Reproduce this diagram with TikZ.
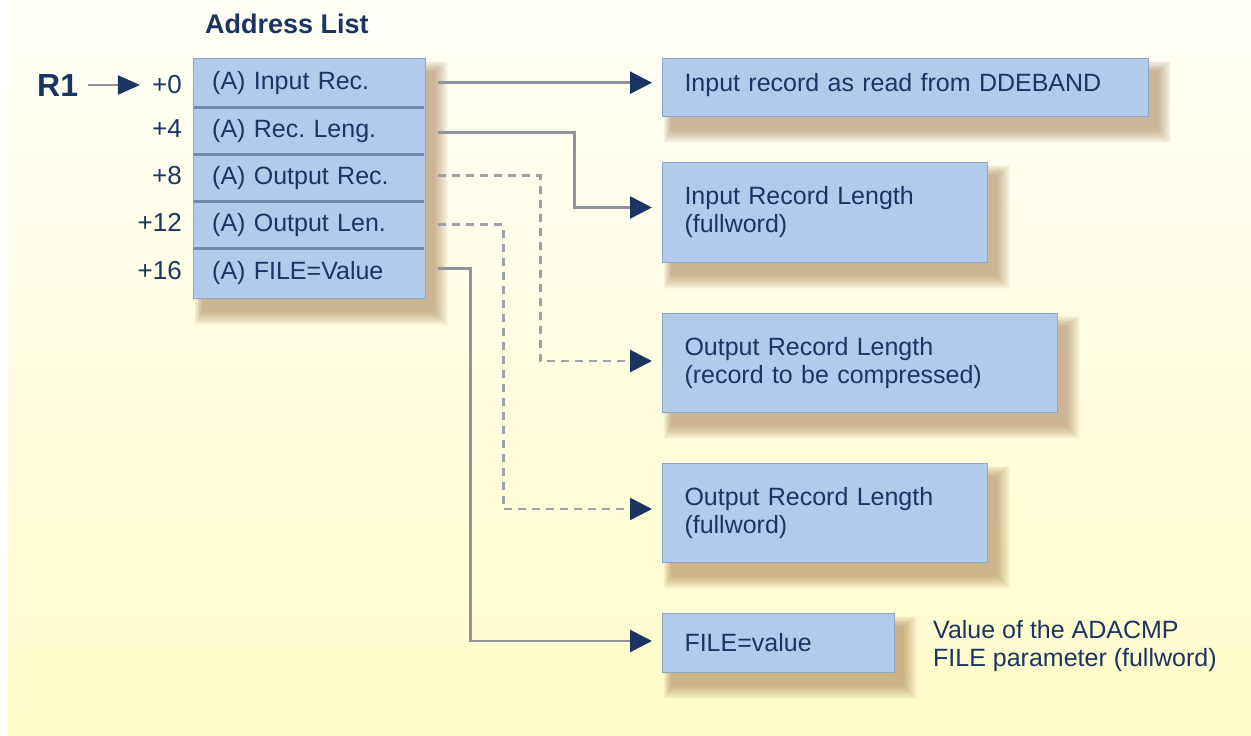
\documentclass[tikz,border=0pt]{standalone}
\usepackage{fontspec}
\setmainfont{Liberation Sans}
\frenchspacing
\usetikzlibrary{arrows.meta,calc}
\pgfdeclarelayer{bg}
\pgfdeclarelayer{shd}
\pgfsetlayers{bg,shd,main}
\definecolor{boxfill}{HTML}{B2CBEA}
\definecolor{boxline}{HTML}{8EA7C9}
\definecolor{divline}{HTML}{7189AA}
\definecolor{navy}{HTML}{1C3461}
\definecolor{connc}{HTML}{8E949B}
\definecolor{dconnc}{HTML}{9DA2A8}
\definecolor{shadowc}{HTML}{9C6B3E}
\definecolor{bgtop}{HTML}{FFFFF8}
\definecolor{bgmid}{HTML}{FFFDE0}
\definecolor{bgbot}{HTML}{FFFCC9}
\newcommand\boxshadow[1]{%
  \begin{pgfonlayer}{shd}
    \foreach \k in {0,...,13}{%
      \pgfmathsetmacro\myinfl{14-\k}%
      \fill[shadowc, opacity=0.045] ($(#1.north west)+({10-0.6*\myinfl},{14-0.8*\myinfl})$) rectangle ($(#1.south east)+(8+\myinfl,12+\myinfl)$);
    }%
  \end{pgfonlayer}}
\begin{document}
\begin{tikzpicture}[x=1pt,y=-1pt,
  txt/.style={font=\fontsize{25}{28}\selectfont, text=navy},
  lab/.style={txt, inner sep=0pt},
  rowbox/.style={txt, text width=194pt, inner xsep=19pt, inner ysep=0pt, align=left, anchor=north west},
  tbox/.style={txt, fill=boxfill, draw=boxline, line width=1pt, inner xsep=22pt, inner ysep=0pt, align=left, anchor=north west},
  link/.style={draw=connc, line width=2.6pt, shorten <=13pt, shorten >=10pt, -{Triangle[length=22pt,width=22pt,color=navy]}},
  dlink/.style={link, draw=dconnc, dash pattern=on 8pt off 6pt},
  divider/.style={draw=divline, line width=3pt}]
\useasboundingbox (0,0) rectangle (1251,736);
\begin{pgfonlayer}{bg}
  \fill[white] (0,0) rectangle (1251,736);
  \shade[top color=bgtop, middle color=bgmid, bottom color=bgbot] (8,0) rectangle (1251,735);
\end{pgfonlayer}

% title
\node[lab, font=\bfseries\fontsize{27}{30}\selectfont, anchor=base west] (title) at (205,33) {Address List};

% address list
\node[fill=boxfill, draw=boxline, line width=1pt, minimum width=232pt, minimum height=240pt, inner sep=0pt, anchor=north west] (alist) at (193,58) {};
\boxshadow{alist}
\node[rowbox, minimum height=49pt] (r1) at (193,58) {(A) Input Rec.};
\node[rowbox, minimum height=47pt] (r2) at (193,107) {(A) Rec. Leng.};
\node[rowbox, minimum height=47pt] (r3) at (193,154) {(A) Output Rec.};
\node[rowbox, minimum height=47pt] (r4) at (193,201) {(A) Output Len.};
\node[rowbox, minimum height=50pt] (r5) at (193,248) {(A) FILE=Value};
\draw[divider] ([xshift=1pt]r1.south west) -- ([xshift=-1pt]r1.south east);
\draw[divider] ([xshift=1pt]r2.south west) -- ([xshift=-1pt]r2.south east);
\draw[divider] ([xshift=1pt]r3.south west) -- ([xshift=-1pt]r3.south east);
\draw[divider] ([xshift=1pt]r4.south west) -- ([xshift=-1pt]r4.south east);

% offsets
\node[lab, font=\fontsize{26}{28}\selectfont, anchor=base east] (o1) at ([xshift=-11pt,yshift=-4pt]r1.base west) {+0};
\node[lab, font=\fontsize{26}{28}\selectfont, anchor=base east] (o2) at ([xshift=-11pt]r2.base west) {+4};
\node[lab, font=\fontsize{26}{28}\selectfont, anchor=base east] (o3) at ([xshift=-11pt]r3.base west) {+8};
\node[lab, font=\fontsize{26}{28}\selectfont, anchor=base east] (o4) at ([xshift=-11pt]r4.base west) {+12};
\node[lab, font=\fontsize{26}{28}\selectfont, anchor=base east] (o5) at ([xshift=-11pt]r5.base west) {+16};

% R1 pointer
\node[lab, font=\bfseries\fontsize{32}{34}\selectfont, anchor=base west] (R1) at (37,96) {R1};
\draw[draw=connc, line width=2.2pt, shorten <=10pt, shorten >=12pt, -{Triangle[length=22pt,width=19pt,color=navy]}] (R1.east) -- (R1.east -| o1.west);

% targets
\node[tbox, text width=442pt, minimum height=58pt, text depth=10pt] (t1) at (662,58) {Input record as read from DDEBAND};
\node[tbox, text width=281pt, minimum height=100pt] (t2) at (662,162) {Input Record Length\\(fullword)};
\node[tbox, text width=351pt, minimum height=99pt] (t3) at (662,313) {Output Record Length\\(record to be compressed)};
\node[tbox, text width=281pt, minimum height=99pt] (t4) at (662,463) {Output Record Length\\(fullword)};
\node[tbox, text width=188pt, minimum height=59pt] (t5) at (662,613) {FILE=value};
\boxshadow{t1}
\boxshadow{t2}
\boxshadow{t3}
\boxshadow{t4}
\boxshadow{t5}

% note
\node[lab, anchor=west, align=left] (note) at (933,646) {Value of the ADACMP\\FILE parameter (fullword)};

% connectors
\draw[link] (r1.east) -- (r1.east -| t1.west);
\draw[link] ([yshift=-2pt]r2.east) -- ++(149,0) |- ([yshift=5pt]t2.west);
\draw[dlink] ([yshift=2pt]r3.east) -- ++(115,0) |- ([yshift=2pt]t3.west);
\draw[dlink] (r4.east) -- ++(78,0) |- ([yshift=4pt]t4.west);
\draw[link] ([yshift=5pt]r5.east) -- ++(45,0) |- ([yshift=2pt]t5.west);
\end{tikzpicture}
\end{document}
